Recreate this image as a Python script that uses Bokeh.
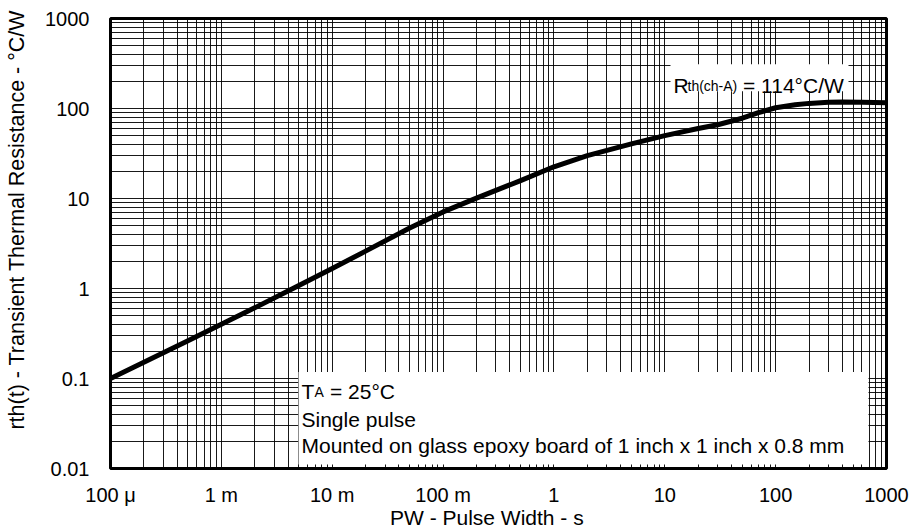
import math
from bokeh.plotting import figure
from bokeh.models import FixedTicker, Label, BoxAnnotation
from bokeh.embed import file_html
from bokeh.resources import INLINE

# ---- data ----
pulse_width = [1e-4, 2e-4, 5e-4, 1e-3, 2e-3, 5e-3, 1e-2, 2e-2, 5e-2, 0.1, 0.2, 0.5,
               1, 2, 5, 10, 20, 30, 50, 70, 100, 150, 200, 300, 400, 600, 1000]
rth_t = [0.10, 0.152, 0.263, 0.40, 0.61, 1.08, 1.67, 2.6, 4.7, 7.1, 10.1, 15.8,
         22.5, 30.0, 40.5, 50, 60, 66, 78, 90, 102, 110, 114, 117, 118, 117, 116]
x_ticks = [1e-4, 1e-3, 1e-2, 1e-1, 1, 10, 100, 1000]
x_tick_labels = ["100 \u03bc", "1 m", "10 m", "100 m", "1", "10", "100", "1000"]
y_ticks = [0.01, 0.1, 1, 10, 100, 1000]
y_tick_labels = ["0.01", "0.1", "1", "10", "100", "1000"]
x_title = "PW - Pulse Width - s"
y_title = "rth(t) - Transient Thermal Resistance - \u00b0C/W"

FONT = "Liberation Sans"
W, H = 909, 531
X0, X1 = 1e-4, 1e3
Y0, Y1 = 0.01, 1e3

# frame geometry in page pixels (for placing annotations)
FL, FR, FT, FB = 110, 886, 18, 470

p = figure(width=W, height=H, x_axis_type="log", y_axis_type="log",
           x_range=(X0, X1), y_range=(Y0, Y1),
           output_backend="svg", toolbar_location=None,
           min_border_left=FL, min_border_right=W - FR,
           min_border_top=FT, min_border_bottom=H - FB)

def dx(px):
    return 10 ** (math.log10(X0) + (px - FL) / (FR - FL) * (math.log10(X1) - math.log10(X0)))
def dy(py):
    return 10 ** (math.log10(Y1) - (py - FT) / (FB - FT) * (math.log10(Y1) - math.log10(Y0)))

def minors(ticks):
    out = []
    for t in ticks[:-1]:
        out += [t * k for k in range(2, 10)]
    return out

p.xaxis.ticker = FixedTicker(ticks=x_ticks, minor_ticks=minors(x_ticks))
p.yaxis.ticker = FixedTicker(ticks=y_ticks, minor_ticks=minors(y_ticks))
p.xaxis.major_label_overrides = {t: l for t, l in zip(x_ticks, x_tick_labels)}
p.yaxis.major_label_overrides = {t: l for t, l in zip(y_ticks, y_tick_labels)}

NBSP = "\u00a0"
for ax in (p.xaxis, p.yaxis):
    ax.axis_line_color = None
    ax.major_tick_line_color = None
    ax.minor_tick_line_color = None
    ax.major_tick_out = 0
    ax.major_tick_in = 0
    ax.major_label_text_font = FONT
    ax.major_label_text_font_size = "20px"
    ax.major_label_text_color = "black"
    ax.axis_label_text_font = FONT
    ax.axis_label_text_font_style = "normal"
    ax.axis_label_text_color = "black"
p.xaxis.major_label_standoff = 11
p.yaxis.major_label_standoff = 17

# non-breaking spaces only nudge the centred titles to the reference position
p.yaxis.axis_label = NBSP * 8 + y_title
p.yaxis.axis_label_text_font_size = "21.5px"
p.yaxis.axis_label_standoff = 13
p.xaxis.axis_label = x_title + NBSP * 4
p.xaxis.axis_label_text_font_size = "21px"
p.xaxis.axis_label_standoff = -3

for g in (p.xgrid, p.ygrid):
    g.grid_line_color = "black"
    g.grid_line_width = 1
    g.grid_line_alpha = 0.9
    g.minor_grid_line_color = "black"
    g.minor_grid_line_width = 1
    g.minor_grid_line_alpha = 0.9

p.outline_line_color = "black"
p.outline_line_width = 3
p.background_fill_color = "white"
p.border_fill_color = "white"

p.line(pulse_width, rth_t, line_color="black", line_width=5, line_join="round")

# condition box
p.add_layout(BoxAnnotation(left=dx(298), right=dx(868), top=dy(373), bottom=dy(466),
                           fill_color="white", fill_alpha=1, line_color=None))
# Rth box
p.add_layout(BoxAnnotation(left=dx(670), right=dx(848), top=dy(64), bottom=dy(91),
                           fill_color="white", fill_alpha=1, line_color=None))

def lab(text, px, py, size, align="left"):
    p.add_layout(Label(x=dx(px), y=dy(py), text=text, text_font=FONT,
                       text_font_size=f"{size}px", text_color="black",
                       text_align=align, text_baseline="alphabetic"))

# Rth(ch-A) = 114°C/W
lab("R", 673, 85, 21)
lab("th(ch-A)", 687, 86, 14)
lab("= 114\u00b0C/W", 742.5, 85, 21)

# conditions
lab("T", 301, 393, 21)
lab("A", 314, 393, 14)
lab("= 25\u00b0C", 329.5, 393, 21)
lab("Single pulse", 301, 421, 21)
lab("Mounted on glass epoxy board of 1 inch x 1 inch x 0.8 mm", 301, 447, 21)

open("out.html", "w").write(file_html(p, INLINE))
